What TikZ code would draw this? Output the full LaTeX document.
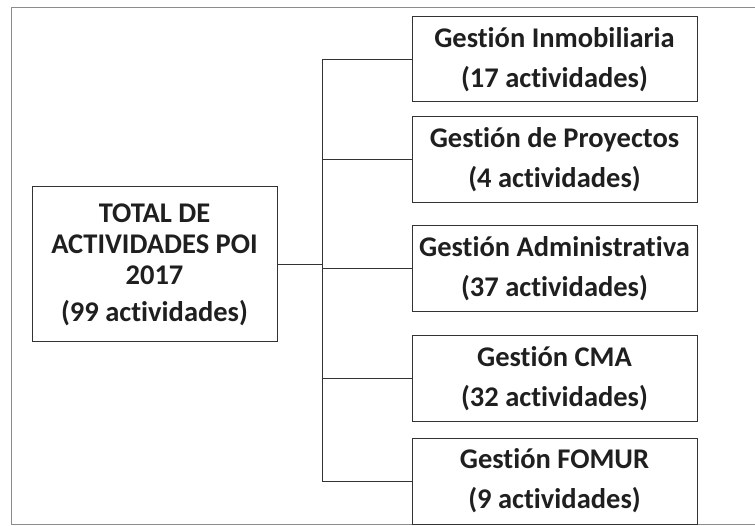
\documentclass[tikz,border=0pt]{standalone}
\usepackage{fontspec}
\setmainfont[Ligatures={NoCommon}]{Carlito}
\begin{document}
\begin{tikzpicture}[x=1pt,y=-1pt,
  box/.style={draw=black!80, line width=1pt, minimum width=285pt, minimum height=86pt,
    inner sep=0pt, align=center, text=black!88,
    font=\fontsize{28.5}{40}\selectfont\bfseries},
  link/.style={draw=black!80, line width=1pt},
  frame/.style={draw=black!45, line width=0.8pt}]
\useasboundingbox (0,0) rectangle (755,526);
\draw[frame] (755,7) -- (11,7) -- (11,524) -- (755,524);
\node[box, minimum width=245pt, minimum height=155pt,
  font=\fontsize{28.5}{31}\selectfont\bfseries] (total) at (154.5,264.5)
  {TOTAL DE\\ACTIVIDADES POI\\2017\\[6pt](99 actividades)};
\node[box, minimum height=85pt] (b1) at (554.5,59.5) {Gestión Inmobiliaria\\(17 actividades)};
\node[box] (b2) at (554.5,160) {Gestión de Proyectos\\(4 actividades)};
\node[box] (b3) at (554.5,269) {Gestión Administrativa\\(37 actividades)};
\node[box] (b4) at (554.5,378.5) {Gestión CMA\\(32 actividades)};
\node[box] (b5) at (554.5,481) {Gestión FOMUR\\(9 actividades)};
\coordinate (j) at (322,0);
\draw[link] (total.east) -- (total.east -| j);
\draw[link] (j |- b1.west) -- (j |- b5.west);
\foreach \b in {b1,b2,b3,b4,b5}
  \draw[link] (j |- \b.west) -- (\b.west);
\end{tikzpicture}
\end{document}
